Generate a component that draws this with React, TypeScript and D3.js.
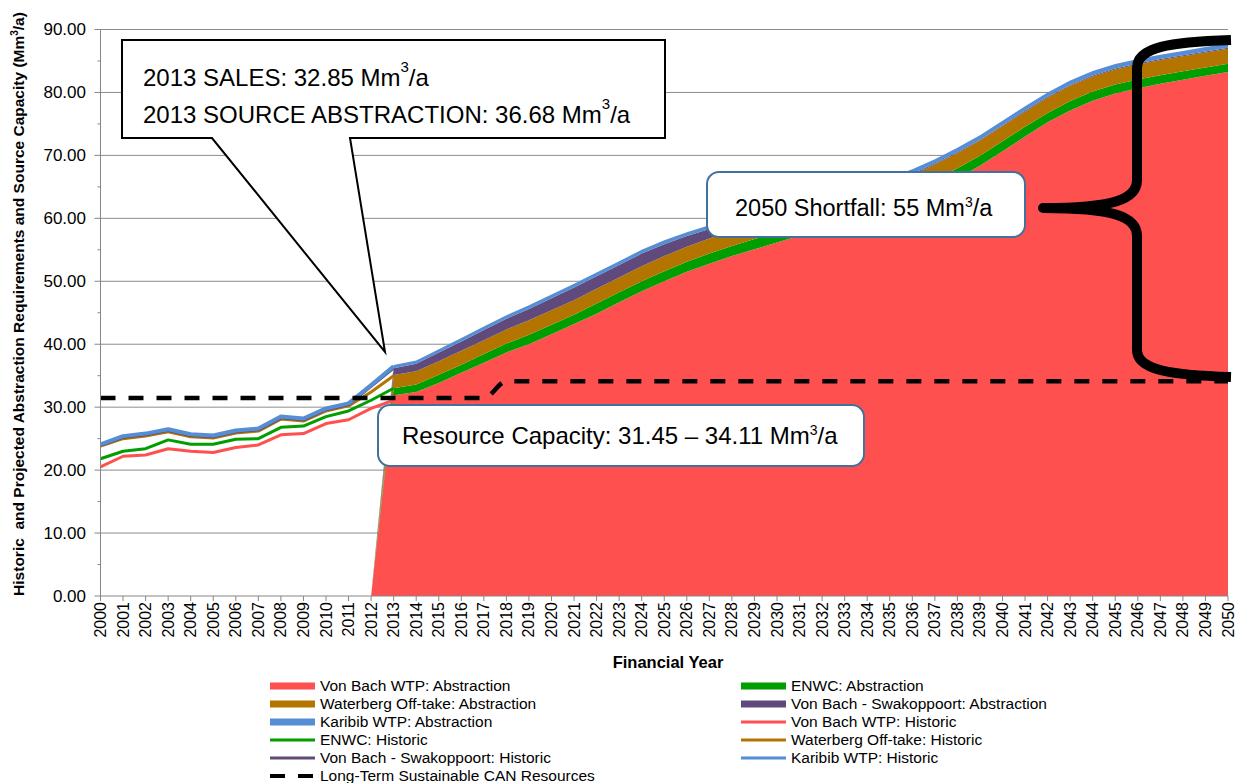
import React from "react";
import * as d3 from "d3";

// financial years on the category axis
const years = [
  2000, 2001, 2002, 2003, 2004, 2005, 2006, 2007, 2008, 2009,
  2010, 2011, 2012, 2013, 2014, 2015, 2016, 2017, 2018, 2019,
  2020, 2021, 2022, 2023, 2024, 2025, 2026, 2027, 2028, 2029,
  2030, 2031, 2032, 2033, 2034, 2035, 2036, 2037, 2038, 2039,
  2040, 2041, 2042, 2043, 2044, 2045, 2046, 2047, 2048, 2049, 2050,
];

// historic (2000-2013), stacked lines
const vonBachHistoric = [20.5, 22.2, 22.4, 23.4, 23.0, 22.8, 23.6, 24.0, 25.6, 25.8, 27.4, 28.0, 29.8, 31.1];
const enwcHistoric = [1.3, 0.8, 1.0, 1.4, 1.1, 1.3, 1.3, 1.0, 1.2, 1.2, 1.1, 1.4, 1.3, 1.9];
const waterbergHistoric = [2.0, 2.0, 2.0, 1.3, 1.2, 1.0, 1.0, 1.2, 1.3, 0.8, 0.9, 0.8, 1.3, 2.0];
const swakopHistoric = [0.15, 0.2, 0.2, 0.2, 0.2, 0.2, 0.2, 0.2, 0.2, 0.2, 0.2, 0.2, 0.9, 1.2];
const karibibHistoric = [0.15, 0.2, 0.2, 0.2, 0.2, 0.2, 0.2, 0.2, 0.2, 0.2, 0.2, 0.2, 0.2, 0.3];

// projected abstraction (2012-2050), stacked areas
const vonBachAbstraction = [
  0, 31.9, 32.4, 33.85, 35.45, 37.05, 38.7, 40.0, 41.6, 43.2, 44.85, 46.65, 48.4,
  50.0, 51.5, 52.8, 54.0, 55.1, 56.15, 57.25, 58.35, 59.35, 60.45, 61.6, 62.9,
  64.55, 66.35, 68.35, 70.65, 73.0, 75.25, 77.15, 78.7, 79.85, 80.65, 81.4, 82.0, 82.65, 83.25,
];
const enwcAbstraction = [
  0, 1.1, 1.2, 1.3, 1.3, 1.4, 1.4, 1.5, 1.5, 1.5, 1.6, 1.6, 1.6,
  1.6, 1.6, 1.6, 1.6, 1.6, 1.6, 1.6, 1.6, 1.6, 1.6, 1.6, 1.6,
  1.6, 1.6, 1.6, 1.6, 1.55, 1.5, 1.5, 1.45, 1.4, 1.4, 1.35, 1.35, 1.3, 1.3,
];
const waterbergAbstraction = [
  0, 2.1, 2.1, 2.15, 2.2, 2.2, 2.25, 2.3, 2.3, 2.3, 2.35, 2.35, 2.4,
  2.4, 2.4, 2.4, 2.4, 2.4, 2.4, 2.4, 2.4, 2.4, 2.4, 2.4, 2.4,
  2.4, 2.4, 2.4, 2.4, 2.4, 2.4, 2.4, 2.4, 2.4, 2.4, 2.4, 2.4, 2.4, 2.4,
];
const swakopAbstraction = [
  0, 1.1, 1.2, 1.4, 1.5, 1.6, 1.7, 1.8, 1.9, 2.0, 2.0, 2.0, 2.0,
  1.9, 1.7, 1.5, 1.3, 1.1, 0.9, 0.7, 0.5, 0.4, 0.3, 0.25, 0.2,
  0.15, 0.15, 0.15, 0.15, 0.15, 0.15, 0.15, 0.15, 0.15, 0.15, 0.15, 0.15, 0.15, 0.15,
];
const karibibAbstraction = [
  0, 0.5, 0.5, 0.5, 0.55, 0.55, 0.55, 0.6, 0.6, 0.6, 0.6, 0.6, 0.6,
  0.6, 0.6, 0.6, 0.6, 0.6, 0.65, 0.65, 0.65, 0.65, 0.65, 0.65, 0.7,
  0.7, 0.7, 0.7, 0.7, 0.7, 0.7, 0.7, 0.7, 0.7, 0.7, 0.7, 0.7, 0.7, 0.7,
];

// long-term sustainable CAN resources (2000-2050)
const capacity = [
  31.45, 31.45, 31.45, 31.45, 31.45, 31.45, 31.45, 31.45, 31.45, 31.45,
  31.45, 31.45, 31.45, 31.45, 31.45, 31.45, 31.45, 31.45, 34.11, 34.11,
  34.11, 34.11, 34.11, 34.11, 34.11, 34.11, 34.11, 34.11, 34.11, 34.11,
  34.11, 34.11, 34.11, 34.11, 34.11, 34.11, 34.11, 34.11, 34.11, 34.11,
  34.11, 34.11, 34.11, 34.11, 34.11, 34.11, 34.11, 34.11, 34.11, 34.11, 34.11,
];

const yTicks = [0, 10, 20, 30, 40, 50, 60, 70, 80, 90];
const yMinorTicks = [5, 15, 25, 35, 45, 55, 65, 75, 85];

const keys = ["vonBach", "enwc", "waterberg", "swakop", "karibib"];
const colors: Record<string, string> = {
  vonBach: "#FF5050",
  enwc: "#009E00",
  waterberg: "#B47500",
  swakop: "#604A7B",
  karibib: "#558ED5",
};

const legendItems = [
  { label: "Von Bach WTP: Abstraction", key: "vonBach", kind: "area" },
  { label: "ENWC: Abstraction", key: "enwc", kind: "area" },
  { label: "Waterberg Off-take: Abstraction", key: "waterberg", kind: "area" },
  { label: "Von Bach - Swakoppoort: Abstraction", key: "swakop", kind: "area" },
  { label: "Karibib WTP: Abstraction", key: "karibib", kind: "area" },
  { label: "Von Bach WTP: Historic", key: "vonBach", kind: "line" },
  { label: "ENWC: Historic", key: "enwc", kind: "line" },
  { label: "Waterberg Off-take: Historic", key: "waterberg", kind: "line" },
  { label: "Von Bach - Swakoppoort: Historic", key: "swakop", kind: "line" },
  { label: "Karibib WTP: Historic", key: "karibib", kind: "line" },
  { label: "Long-Term Sustainable CAN Resources", key: "cap", kind: "dash" },
];

const FONT = "Arial, 'Liberation Sans', sans-serif";

export default function App() {
  const width = 1236;
  const height = 783;

  const x = d3.scaleLinear().domain([2000, 2050]).range([100.5, 1228]);
  const y = d3.scaleLinear().domain([0, 90]).range([596, 29.5]);

  const histYears = years.slice(0, 14);
  const projYears = years.slice(12);

  const histRows = histYears.map((yr, i) => ({
    year: yr,
    vonBach: vonBachHistoric[i],
    enwc: enwcHistoric[i],
    waterberg: waterbergHistoric[i],
    swakop: swakopHistoric[i],
    karibib: karibibHistoric[i],
  }));
  const projRows = projYears.map((yr, i) => ({
    year: yr,
    vonBach: vonBachAbstraction[i],
    enwc: enwcAbstraction[i],
    waterberg: waterbergAbstraction[i],
    swakop: swakopAbstraction[i],
    karibib: karibibAbstraction[i],
  }));

  const stack = d3.stack<any>().keys(keys);
  const histStack = stack(histRows);
  const projStack = stack(projRows);

  const area = d3
    .area<any>()
    .x((d) => x(d.data.year))
    .y0((d) => y(d[0]))
    .y1((d) => y(d[1]));

  const histLine = d3
    .line<any>()
    .x((d) => x(d.data.year))
    .y((d) => y(d[1]));

  const capLine = d3
    .line<number>()
    .x((_, i) => x(years[i]))
    .y((d) => y(d))
    .curve(d3.curveMonotoneX);

  const [x0, x1] = x.range();
  const yBase = y(0);

  // brace marking the 2050 shortfall
  const brace =
    "M1231,40 C1170,42 1137,47 1137,68 L1137,180 C1137,200 1112,208 1043,208 " +
    "C1112,208 1137,216 1137,236 L1137,350 C1137,370 1170,375 1231,377";

  return (
    <svg
      width={width}
      height={height}
      style={{ position: "absolute", left: 0, top: 0, background: "#fff" }}
      fontFamily={FONT}
    >
      {/* gridlines */}
      {yTicks.slice(1).map((t) => (
        <line key={t} x1={x0} x2={x1} y1={y(t)} y2={y(t)} stroke="#8C8C8C" strokeWidth={1} />
      ))}

      {/* projected abstraction areas */}
      {projStack.map((s) => (
        <path key={s.key} d={area(s) || ""} fill={colors[s.key]} stroke="none" />
      ))}

      {/* historic stacked lines */}
      {histStack.map((s) => (
        <path
          key={s.key}
          d={histLine(s) || ""}
          fill="none"
          stroke={colors[s.key]}
          strokeWidth={s.key === "karibib" ? 4 : 3}
          strokeLinejoin="round"
        />
      ))}

      {/* sustainable resources */}
      <path
        d={capLine(capacity) || ""}
        fill="none"
        stroke="#000"
        strokeWidth={4.5}
        strokeDasharray="15,13"
      />

      {/* axes */}
      <line x1={x0} x2={x0} y1={y(90)} y2={yBase} stroke="#868686" />
      <line x1={x0} x2={x1} y1={yBase} y2={yBase} stroke="#868686" />
      {yTicks.map((t) => (
        <g key={t}>
          <line x1={x0 - 6} x2={x0} y1={y(t)} y2={y(t)} stroke="#868686" />
          <text x={86} y={y(t)} dy="0.35em" textAnchor="end" fontSize={17} fill="#000">
            {d3.format(".2f")(t)}
          </text>
        </g>
      ))}
      {yMinorTicks.map((t) => (
        <line key={t} x1={x0 - 3} x2={x0} y1={y(t)} y2={y(t)} stroke="#868686" />
      ))}
      {years.map((yr) => (
        <g key={yr}>
          <line x1={x(yr)} x2={x(yr)} y1={yBase} y2={yBase + 5} stroke="#868686" />
          <text
            transform={`translate(${x(yr) + 5.5},${yBase + 6}) rotate(-90)`}
            textAnchor="end"
            fontSize={16}
            fill="#000"
          >
            {yr}
          </text>
        </g>
      ))}

      <text x={668} y={668} textAnchor="middle" fontSize={16.5} fontWeight="bold">
        Financial Year
      </text>
      <text
        transform="translate(23.5,304) rotate(-90)"
        textAnchor="middle"
        fontSize={15.5}
        fontWeight="bold"
        style={{ whiteSpace: "pre" }}
      >
        {"Historic  and Projected Abstraction Requirements and Source Capacity (Mm"}
        <tspan dy={-6} fontSize={10}>3</tspan>
        <tspan dy={6}>/a)</tspan>
      </text>

      {/* 2013 callout */}
      <path
        d="M122,40 H665 V138 H350 L385,352 L212,138 H122 Z"
        fill="#fff"
        stroke="#000"
        strokeWidth={2}
        strokeLinejoin="miter"
      />
      <text x={143} y={86} fontSize={24}>
        2013 SALES: 32.85 Mm
        <tspan dy={-14} fontSize={15}>3</tspan>
        <tspan dy={14}>/a</tspan>
      </text>
      <text x={143} y={123} fontSize={24}>
        2013 SOURCE ABSTRACTION: 36.68 Mm
        <tspan dy={-14} fontSize={15}>3</tspan>
        <tspan dy={14}>/a</tspan>
      </text>

      {/* shortfall brace */}
      <path d={brace} fill="none" stroke="#000" strokeWidth={10} strokeLinejoin="round" />

      {/* shortfall label */}
      <rect x={707} y={172} width={318} height={65} rx={12} fill="#fff" stroke="#41719C" strokeWidth={2} />
      <text x={735} y={216} fontSize={23.5}>
        2050 Shortfall: 55 Mm
        <tspan dy={-9} fontSize={14}>3</tspan>
        <tspan dy={9}>/a</tspan>
      </text>

      {/* resource capacity label */}
      <rect x={378} y={405} width={486} height={61} rx={12} fill="#fff" stroke="#41719C" strokeWidth={2} />
      <text x={402} y={444} fontSize={24}>
        Resource Capacity: 31.45 – 34.11 Mm
        <tspan dy={-9} fontSize={14}>3</tspan>
        <tspan dy={9}>/a</tspan>
      </text>

      {/* legend */}
      {legendItems.map((item, i) => {
        const col = i % 2;
        const row = Math.floor(i / 2);
        const sx = col === 0 ? 270 : 741;
        const cy = 686 + row * 18;
        return (
          <g key={item.label}>
            {item.kind === "area" && (
              <rect x={sx} y={cy - 3.5} width={45} height={7} fill={colors[item.key]} />
            )}
            {item.kind === "line" && (
              <line x1={sx} x2={sx + 45} y1={cy} y2={cy} stroke={colors[item.key]} strokeWidth={3} />
            )}
            {item.kind === "dash" && (
              <line
                x1={sx}
                x2={sx + 45}
                y1={cy}
                y2={cy}
                stroke="#000"
                strokeWidth={4}
                strokeDasharray="15,13"
              />
            )}
            <text x={sx + 50} y={cy} dy="0.35em" fontSize={15.5} fill="#000">
              {item.label}
            </text>
          </g>
        );
      })}
    </svg>
  );
}
